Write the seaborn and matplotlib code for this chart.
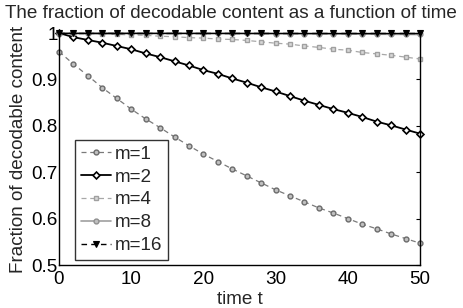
import matplotlib
matplotlib.use("Agg")
import matplotlib.pyplot as plt
import seaborn as sns
import numpy as np

time_t = [0, 2, 4, 6, 8, 10, 12, 14, 16, 18, 20, 22, 24, 26, 28, 30, 32, 34, 36, 38, 40, 42, 44, 46, 48, 50]
m1 = [0.960, 0.933, 0.908, 0.882, 0.859, 0.836, 0.815, 0.796, 0.776, 0.757, 0.739, 0.723, 0.707,
      0.692, 0.677, 0.662, 0.649, 0.636, 0.623, 0.612, 0.600, 0.588, 0.578, 0.567, 0.557, 0.547]
m2 = [1.000, 0.991, 0.985, 0.979, 0.972, 0.965, 0.956, 0.948, 0.939, 0.930, 0.920, 0.912, 0.902,
      0.893, 0.883, 0.874, 0.864, 0.854, 0.845, 0.836, 0.828, 0.819, 0.809, 0.801, 0.792, 0.783]
m4 = [1.000, 0.9995, 0.999, 0.998, 0.997, 0.996, 0.995, 0.993, 0.992, 0.990, 0.989, 0.987, 0.986,
      0.984, 0.981, 0.978, 0.976, 0.972, 0.969, 0.965, 0.963, 0.958, 0.955, 0.952, 0.948, 0.944]
m8 = [1.000, 1.000, 1.000, 1.000, 1.000, 1.000, 0.9999, 0.9998, 0.9997, 0.9996, 0.9995, 0.9994, 0.9993,
      0.9991, 0.9990, 0.9988, 0.9986, 0.9984, 0.9982, 0.9980, 0.9978, 0.9976, 0.9974, 0.9972, 0.9970, 0.9968]
m16 = [1.000] * 26
labels = ["m=1", "m=2", "m=4", "m=8", "m=16"]
x_ticks = [0, 10, 20, 30, 40, 50]
y_ticks = [0.5, 0.6, 0.7, 0.8, 0.9, 1.0]
y_tick_labels = ["0.5", "0.6", "0.7", "0.8", "0.9", "1"]

FS = 13.6
sns.set_style("white")
plt.rcParams['font.family'] = ['Liberation Sans', 'DejaVu Sans']
plt.rcParams['font.size'] = FS

fig = plt.figure(figsize=(4.64, 3.08), dpi=100)
ax = fig.add_axes([59/464, 1 - 265/308, (420-59)/464, (265-33)/308])

styles = [
    dict(color="#7a7a7a", ls=(0, (4, 3)), lw=0.9, marker="o", ms=3.5, mfc="#c0c0c0", mec="#6a6a6a", mew=1.0),
    dict(color="black", ls="-", lw=1.3, marker="D", ms=3.5, mfc="white", mec="black", mew=1.2),
    dict(color="#a8a8a8", ls=(0, (4, 3)), lw=0.9, marker="s", ms=3.5, mfc="#d8d8d8", mec="#a0a0a0", mew=1.0),
    dict(color="#a0a0a0", ls="-", lw=1.2, marker="o", ms=3.5, mfc="#c0c0c0", mec="#909090", mew=1.0),
    dict(color="black", ls=(0, (4, 3)), lw=1.0, marker="v", ms=4.5, mfc="black", mec="black", mew=0.8),
]
series = [m1, m2, m4, m8, m16]
for vals, lab, st in zip(series, labels, styles):
    sns.lineplot(x=time_t, y=vals, ax=ax, label=lab, clip_on=False, **st)

ax.set_xlim(0, 50)
ax.set_ylim(0.5, 1.0)
ax.set_xticks(x_ticks)
ax.set_xticklabels([str(v) for v in x_ticks])
ax.set_yticks(y_ticks)
ax.set_yticklabels(y_tick_labels)
ax.tick_params(direction="in", length=3, width=0.8, top=True, right=True,
               labelsize=FS, colors="black")
ax.tick_params(axis="x", pad=4)
ax.tick_params(axis="y", pad=1)
for s in ax.spines.values():
    s.set_visible(True)
    s.set_color("black")
    s.set_linewidth(1.0)

ax.set_xlabel("time t", fontsize=FS, labelpad=2.5)
ax.set_ylabel("Fraction of decodable content", fontsize=FS, labelpad=3)
ax.set_title("The fraction of decodable content as a function of time", fontsize=FS, pad=11, x=0.475)

leg = ax.legend(loc="lower left", bbox_to_anchor=(0.044, 0.022), borderaxespad=0,
                fancybox=False, frameon=True, fontsize=FS, handlelength=1.6,
                handletextpad=0.2, labelspacing=0.3, borderpad=0.3)
leg.get_frame().set_edgecolor("black")
leg.get_frame().set_linewidth(1.0)

fig.savefig("out.png", dpi=100)
